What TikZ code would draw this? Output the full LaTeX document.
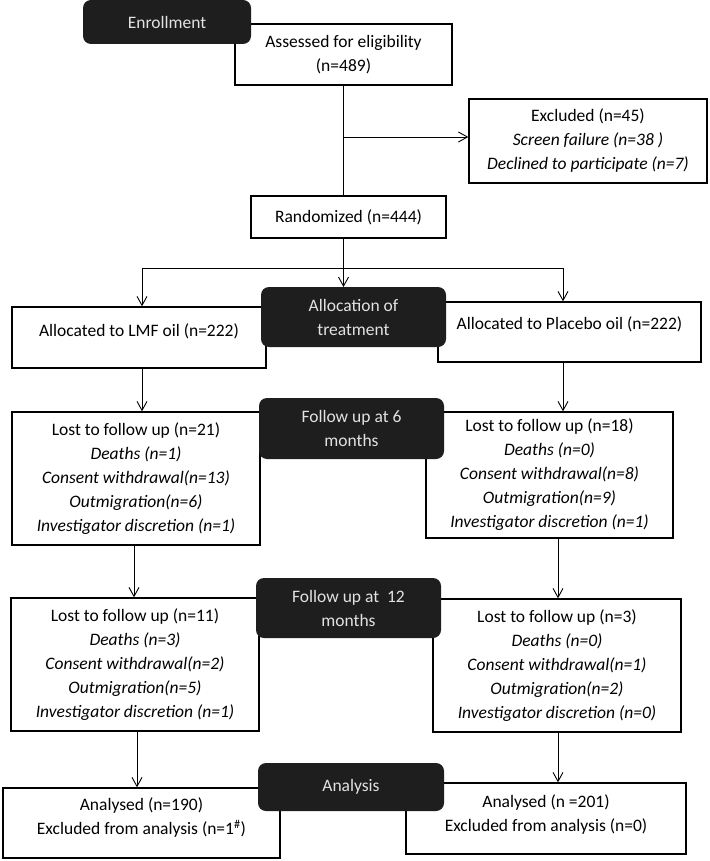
\documentclass[tikz,border=0pt]{standalone}
\usepackage{fontspec}
\setmainfont{Carlito}
\usetikzlibrary{calc,arrows.meta,positioning}
\definecolor{stagefill}{HTML}{1E1E1E}
\definecolor{stagetext}{HTML}{E2E2E2}

\begin{document}
\begin{tikzpicture}[x=1pt,y=-1pt,
  font=\fontsize{17.5}{24}\selectfont,
  box/.style={draw,line width=1.4pt,fill=white,align=center,inner sep=0pt},
  stage/.style={fill=stagefill,text=stagetext,rounded corners=8pt,align=center,inner sep=0pt},
  arr/.style={-{Straight Barb[length=9pt,width=10pt]},line width=0.9pt}]
  \useasboundingbox (0,0) rectangle (709,861);
  % boxes
  \node[box,minimum width=217pt,minimum height=61pt](assess) at (343.5,54.5)
    {Assessed for eligibility\\(n=489)};
  \node[box,minimum width=238pt,minimum height=84pt](excl) at (588,141)
    {Excluded (n=45)\\\textit{Screen failure (n=38 )}\\\textit{Declined to participate (n=7)}};
  \node[box,minimum width=195pt,minimum height=42pt](rand) at (348.5,217)
    {Randomized (n=444)};
  \node[box,minimum width=254pt,minimum height=61pt,text depth=15pt](lmf) at (139,337.5)
    {Allocated to LMF oil (n=222)};
  \node[box,minimum width=263pt,minimum height=60pt,text depth=18pt](plac) at (569.5,332)
    {Allocated to Placebo oil (n=222)};
  \node[box,minimum width=248pt,minimum height=133pt](lost6l) at (136,478.5)
    {Lost to follow up (n=21)\\\textit{Deaths (n=1)}\\\textit{Consent withdrawal(n=13)}\\
     \textit{Outmigration(n=6)}\\\textit{Investigator discretion (n=1)}};
  \node[box,minimum width=247pt,minimum height=126pt](lost6r) at (549.5,475)
    {Lost to follow up (n=18)\\\textit{Deaths (n=0)}\\\textit{Consent withdrawal(n=8)}\\
     \textit{Outmigration(n=9)}\\\textit{Investigator discretion (n=1)}};
  \node[box,minimum width=248pt,minimum height=133pt](lost12l) at (135,664.5)
    {Lost to follow up (n=11)\\\textit{Deaths (n=3)}\\\textit{Consent withdrawal(n=2)}\\
     \textit{Outmigration(n=5)}\\\textit{Investigator discretion (n=1)}};
  \node[box,minimum width=248pt,minimum height=133pt](lost12r) at (557,665.5)
    {Lost to follow up (n=3)\\\textit{Deaths (n=0)}\\\textit{Consent withdrawal(n=1)}\\
     \textit{Outmigration(n=2)}\\\textit{Investigator discretion (n=0)}};
  \node[box,minimum width=277pt,minimum height=70pt,text depth=14pt](anl) at (141.5,823)
    {Analysed (n=190)\\Excluded from analysis (n=1\textsuperscript{\#})};
  \node[box,minimum width=280pt,minimum height=71pt,text depth=11.5pt](anr) at (546,818.5)
    {Analysed (n =201)\\Excluded from analysis (n=0)};
  % connectors
  \coordinate(split) at (assess.south |- 0,268);
  \coordinate(lmftop) at ($(lmf.north)+(3,0)$);
  \coordinate(plactop) at ($(plac.north)+(-6.5,0)$);
  \coordinate(l1) at ($(lmf.south)+(3,0)$);
  \coordinate(l2) at ($(lost6l.south)+(-2,0)$);
  \coordinate(l3) at ($(lost12l.south)+(2,0)$);
  \coordinate(r1) at ($(plac.south)+(-6.5,0)$);
  \coordinate(r2) at ($(lost6r.south)+(8.5,0)$);
  \coordinate(r3) at ($(lost12r.south)+(1,0)$);
  \coordinate(exarr) at (assess.south |- 0,137);
  \draw[line width=0.9pt](assess.south)--(assess.south |- rand.north);
  \draw[arr](exarr)--(exarr -| excl.west);
  \draw[arr](assess.south |- rand.south)--(assess.south |- 0,287);
  \draw[arr](split)-|(lmftop);
  \draw[arr](split)-|(plactop);
  \draw[arr](l1)--(l1 |- lost6l.north);
  \draw[arr](l2)--(l2 |- lost12l.north);
  \draw[arr](l3)--(l3 |- anl.north);
  \draw[arr](r1)--(r1 |- lost6r.north);
  \draw[arr](r2)--(r2 |- lost12r.north);
  \draw[arr](r3)--(r3 |- anr.north);
  % stage labels
  \node[stage,minimum width=168pt,minimum height=44pt](enrol) at (167,22) {Enrollment};
  \node[stage,minimum width=185pt,minimum height=60pt](alloc) at (353.5,317) {Allocation of\\treatment};
  \node[stage,minimum width=185pt,minimum height=61pt](fu6) at (351.5,428.5) {Follow up at 6\\months};
  \node[stage,minimum width=185pt,minimum height=60pt](fu12) at (348.5,608) {Follow up at~ 12\\months};
  \node[stage,minimum width=186pt,minimum height=48pt](anal) at (351,787) {Analysis};
\end{tikzpicture}
\end{document}
